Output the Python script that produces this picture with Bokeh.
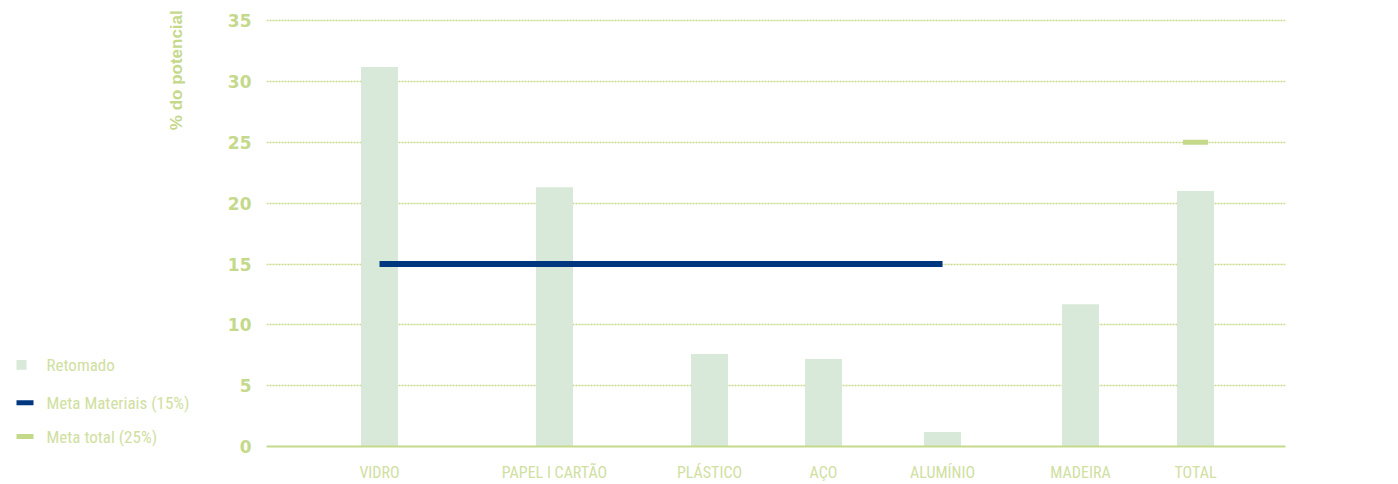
import math
from bokeh.plotting import figure
from bokeh.layouts import row
from bokeh.models import Range1d, FixedTicker, ColumnDataSource
from bokeh.core.properties import value
from bokeh.embed import file_html
from bokeh.resources import INLINE

# ---- data ----
categories = ["VIDRO", "PAPEL I CARTÃO", "PLÁSTICO", "AÇO", "ALUMÍNIO", "MADEIRA", "TOTAL"]
retomado = [31.2, 21.3, 7.6, 7.2, 1.2, 11.7, 21.0]
meta_materiais = 15   # % target for each material
meta_total = 25       # % target for total
y_ticks = [0, 5, 10, 15, 20, 25, 30, 35]
legend_labels = ["Retomado", "Meta Materiais (15%)", "Meta total (25%)"]
y_title = "% do potencial"

# ---- layout (category centre positions along the x axis) ----
x_pos = [113, 288, 443, 557, 676, 814, 929]

GREEN = "#c5d98b"
GRID = "#c6da8a"
LABEL_GREEN = "#d0e09f"
BAR = "#d8e9d9"
NAVY = "#00377f"
COND = "Roboto Condensed, DejaVu Sans Condensed, sans-serif"

# ---------------- main chart ----------------
p = figure(width=1190, height=484, output_backend="svg", toolbar_location=None,
           x_range=Range1d(0, 1019), y_range=Range1d(0, 36),
           min_border_left=66, min_border_right=105, min_border_top=8, min_border_bottom=36)
p.outline_line_color = None

src = ColumnDataSource(dict(x=x_pos, top=retomado, cat=categories))
p.vbar(x="x", top="top", bottom=0, width=37, source=src, fill_color=BAR, line_color=None)
p.line(x=[x_pos[0], x_pos[4]], y=[meta_materiais, meta_materiais], line_color=NAVY, line_width=6)
p.line(x=[x_pos[6] - 12.5, x_pos[6] + 12.5], y=[meta_total, meta_total], line_color=GREEN, line_width=5)

p.xgrid.visible = False
p.ygrid.ticker = FixedTicker(ticks=y_ticks)
p.ygrid.grid_line_color = GRID
p.ygrid.grid_line_dash = "2 1"
p.ygrid.grid_line_width = 1.5

p.xaxis.ticker = FixedTicker(ticks=x_pos)
p.xaxis.major_label_overrides = {x: c for x, c in zip(x_pos, categories)}
p.xaxis.axis_line_color = GREEN
p.xaxis.axis_line_width = 2
p.xaxis.major_tick_line_color = None
p.xaxis.minor_tick_line_color = None
p.xaxis.major_label_text_font = COND
p.xaxis.major_label_text_font_size = "16px"
p.xaxis.major_label_text_color = LABEL_GREEN
p.xaxis.major_label_standoff = 10

p.yaxis.ticker = FixedTicker(ticks=y_ticks)
p.yaxis.axis_line_color = None
p.yaxis.major_tick_line_color = None
p.yaxis.minor_tick_line_color = None
p.yaxis.major_label_text_font = "DejaVu Sans"
p.yaxis.major_label_text_font_style = "bold"
p.yaxis.major_label_text_font_size = "17px"
p.yaxis.major_label_text_color = GREEN
p.yaxis.major_label_standoff = 9

# ---------------- left panel: axis title + legend ----------------
# frame of this panel is aligned with the chart frame (page y 8..448)
lp = figure(width=200, height=484, output_backend="svg", toolbar_location=None,
            x_range=Range1d(0, 200), y_range=Range1d(448, 8),
            min_border_left=0, min_border_right=0, min_border_top=8, min_border_bottom=36)
lp.axis.visible = False
lp.grid.visible = False
lp.outline_line_color = None

row_y = [366, 404, 438]
lp.rect(x=[21], y=[row_y[0]], width=10, height=10, fill_color=BAR, line_color=None)
lp.segment(x0=[16], y0=[row_y[1]], x1=[33], y1=[row_y[1]], line_color=NAVY, line_width=5)
lp.segment(x0=[16], y0=[row_y[2]], x1=[33], y1=[row_y[2]], line_color=GREEN, line_width=5)
lp.text(x=[46] * 3, y=row_y, text=legend_labels, text_font=value(COND), text_font_size="17px",
        text_color=LABEL_GREEN, text_baseline="middle", text_align="left")
lp.text(x=[175.5], y=[70], text=[y_title], angle=math.pi / 2, text_font=value("Liberation Sans"),
        text_font_style="bold", text_font_size="17px", text_color=GREEN,
        text_align="center", text_baseline="middle")

layout = row(lp, p, spacing=0)
open("out.html", "w").write(file_html(layout, INLINE))
